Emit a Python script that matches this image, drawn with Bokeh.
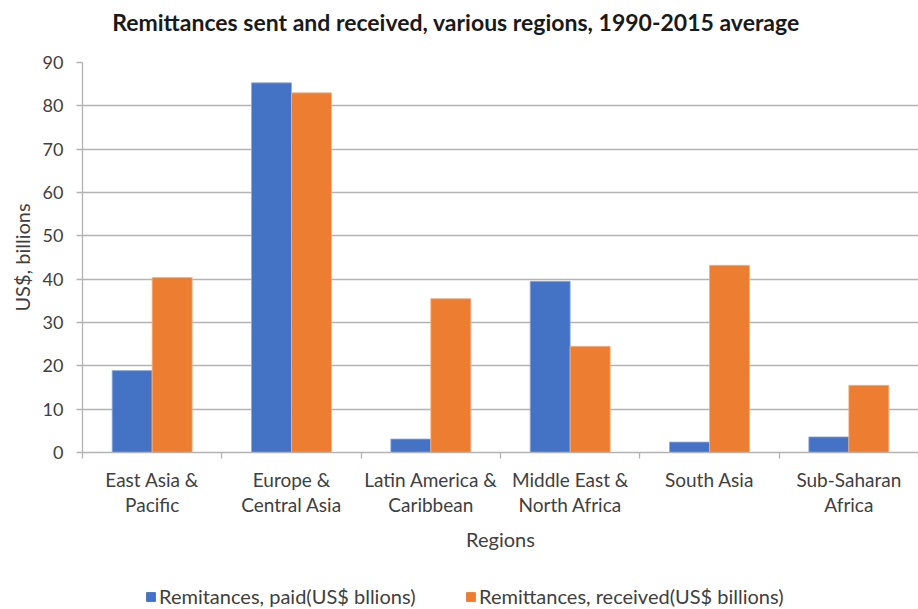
from bokeh.plotting import figure
from bokeh.models import (ColumnDataSource, Range1d, FixedTicker, LinearAxis,
                          Legend, LegendItem, Label)
from bokeh.layouts import column
from bokeh.embed import file_html
from bokeh.resources import INLINE

title_text = "Remittances sent and received, various regions, 1990-2015 average"
regions = ["East Asia &\nPacific", "Europe &\nCentral Asia", "Latin America &\nCaribbean",
           "Middle East &\nNorth Africa", "South Asia", "Sub-Saharan\nAfrica"]
paid = [18.9, 85.3, 3.1, 39.5, 2.4, 3.6]
received = [40.4, 83.0, 35.5, 24.5, 43.2, 15.5]
y_ticks = [0, 10, 20, 30, 40, 50, 60, 70, 80, 90]
series_names = ["Remitances, paid(US$ bllions)", "Remittances, received(US$ billions)"]

FONT = "Lato"
TXT = "#404040"
BLUE = "#4472C4"
ORANGE = "#ED7D31"
GRID = "#B3B3B3"

n = len(regions)
centers = [i + 0.5 for i in range(n)]
bw = 0.287


def strip(height):
    f = figure(width=918, height=height, output_backend="svg", toolbar_location=None,
               x_range=Range1d(0, 836), y_range=Range1d(0, height),
               min_border_left=82, min_border_right=0, min_border_top=0,
               min_border_bottom=0, x_axis_location=None, y_axis_location=None)
    f.outline_line_color = None
    f.xgrid.visible = False
    f.ygrid.visible = False
    return f


# title strip
tf = strip(40)
tf.add_layout(Label(x=373.5, y=19, text=title_text, text_font=FONT,
                    text_font_size="23px", text_font_style="bold",
                    text_color="#1a1a1a", text_align="center",
                    text_baseline="middle"))

src = ColumnDataSource(dict(
    xp=[c - bw / 2 for c in centers],
    xr=[c + bw / 2 for c in centers],
    paid=paid, received=received))

p = figure(width=918, height=530, output_backend="svg", toolbar_location=None,
           x_range=Range1d(0, n), y_range=Range1d(0, 90),
           min_border_left=82, min_border_right=0, min_border_top=22,
           min_border_bottom=118, x_axis_location=None, y_axis_location=None)
p.outline_line_color = None
p.background_fill_color = "white"
p.border_fill_color = "white"

r1 = p.vbar(x="xp", top="paid", width=bw, source=src, fill_color=BLUE,
            line_color="#8FAADC", line_width=0.8)
r2 = p.vbar(x="xr", top="received", width=bw, source=src, fill_color=ORANGE,
            line_color="#F4B183", line_width=0.8)

# y axis
yax = LinearAxis(ticker=FixedTicker(ticks=y_ticks))
yax.axis_line_color = GRID
yax.axis_line_width = 1.3
yax.major_tick_line_color = GRID
yax.major_tick_line_width = 1.3
yax.major_tick_out = 6
yax.major_tick_in = 0
yax.minor_tick_line_color = None
yax.major_label_text_font = FONT
yax.major_label_text_font_size = "18px"
yax.major_label_text_color = TXT
yax.major_label_standoff = 13
yax.axis_label = "US$, billions"
yax.axis_label_text_font = FONT
yax.axis_label_text_font_size = "20px"
yax.axis_label_text_font_style = "normal"
yax.axis_label_text_color = TXT
yax.axis_label_standoff = 6
p.add_layout(yax, "left")

# x axis
xax = LinearAxis(ticker=FixedTicker(ticks=centers, minor_ticks=list(range(n + 1))))
xax.major_label_overrides = {c: r for c, r in zip(centers, regions)}
xax.axis_line_color = GRID
xax.axis_line_width = 1.3
xax.major_tick_line_color = None
xax.minor_tick_line_color = GRID
xax.minor_tick_line_width = 1.3
xax.minor_tick_out = 6
xax.minor_tick_in = 0
xax.major_label_text_font = FONT
xax.major_label_text_font_size = "19px"
xax.major_label_text_color = TXT
xax.major_label_standoff = 9
xax.major_label_text_line_height = 1.12
xax.axis_label = "Regions"
xax.axis_label_text_font = FONT
xax.axis_label_text_font_size = "20px"
xax.axis_label_text_font_style = "normal"
xax.axis_label_text_color = TXT
xax.axis_label_standoff = 8
p.add_layout(xax, "below")

p.xgrid.visible = False
p.ygrid.ticker = FixedTicker(ticks=y_ticks)
p.ygrid.grid_line_color = GRID
p.ygrid.grid_line_width = 1.5

# legend strip
lg = strip(39)
lsrc = ColumnDataSource(dict(x=[5000], top=[1]))
g1 = lg.vbar(x="x", top="top", width=1, source=lsrc, fill_color=BLUE, line_color=BLUE)
g2 = lg.vbar(x="x", top="top", width=1, source=lsrc, fill_color=ORANGE, line_color=ORANGE)
for name, rend, xpos in [(series_names[0], g1, 63), (series_names[1], g2, 383)]:
    leg = Legend(items=[LegendItem(label=name, renderers=[rend])],
                 orientation="horizontal", location=(xpos, 1),
                 label_text_font=FONT, label_text_font_size="20px",
                 label_text_color=TXT, glyph_width=11, glyph_height=11,
                 label_standoff=3, border_line_color=None,
                 background_fill_alpha=0, margin=0, padding=0)
    lg.add_layout(leg, "center")

open("out.html", "w").write(file_html(column(tf, p, lg), INLINE))
